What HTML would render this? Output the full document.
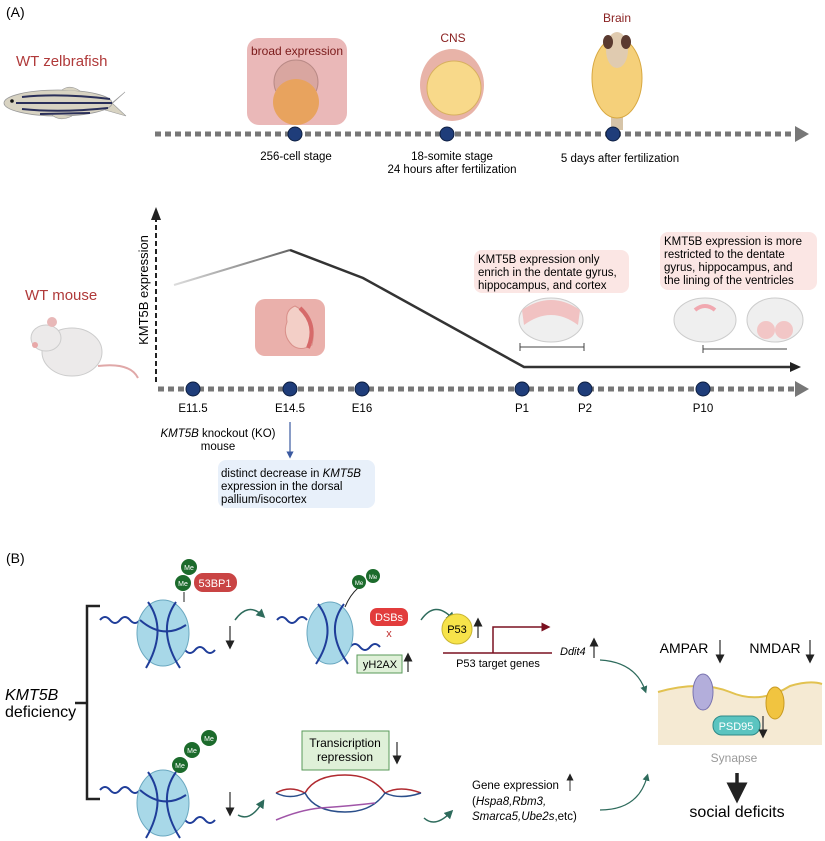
<!DOCTYPE html>
<html><head><meta charset="utf-8"><style>
html,body{margin:0;padding:0;background:#fff;width:825px;height:841px;overflow:hidden}
svg{display:block}
text{font-family:"Liberation Sans",sans-serif}
</style></head><body>
<svg width="825" height="841" viewBox="0 0 825 841" xmlns="http://www.w3.org/2000/svg">
<defs>
<marker id="ab" markerWidth="6" markerHeight="6" refX="3" refY="3" orient="auto"><path d="M0,0 L6,3 L0,6Z" fill="#222"/></marker>
<marker id="at" markerWidth="6" markerHeight="6" refX="3" refY="3" orient="auto"><path d="M0,0 L6,3 L0,6Z" fill="#2e6b5c"/></marker>
<marker id="ar" markerWidth="6" markerHeight="6" refX="3" refY="3" orient="auto"><path d="M0,0 L6,3 L0,6Z" fill="#7a1020"/></marker>
<marker id="abl" markerWidth="6" markerHeight="6" refX="3" refY="3" orient="auto"><path d="M0,0 L6,3 L0,6Z" fill="#3b5aa0"/></marker>
<linearGradient id="cg" x1="0" x2="1"><stop offset="0" stop-color="#ddd"/><stop offset="1" stop-color="#666"/></linearGradient>
</defs>

<text x="6" y="17" font-size="14">(A)</text>
<text x="16" y="66" font-size="15" fill="#b03a3a">WT zelbrafish</text>
<g>
<path d="M125,92 L112,103 L126,116 L105,110 Z" fill="#d8d3c2" stroke="#999" stroke-width="0.6"/>
<ellipse cx="58" cy="103" rx="54" ry="13" fill="#d8d3c2" stroke="#999" stroke-width="0.8"/>
<path d="M62,90 Q70,84 80,91" fill="#d8d3c2" stroke="#999" stroke-width="0.6"/>
<path d="M52,115 Q60,122 72,116" fill="#d8d3c2" stroke="#999" stroke-width="0.6"/>
<path d="M22,97 Q60,93 110,99 M16,103 L112,103 M22,109 Q60,113 108,108 M40,114 L90,113" stroke="#2a2f5a" stroke-width="2" fill="none"/>
<circle cx="12" cy="101" r="1.8" fill="#111"/>
</g>
<line x1="155" y1="134" x2="795" y2="134" stroke="#777" stroke-width="5" stroke-dasharray="6,4"/>
<path d="M795,126 L809,134 L795,142Z" fill="#777"/>
<rect x="247" y="38" width="100" height="87" rx="12" fill="#eab8b8"/>
<text x="297" y="55" font-size="12" fill="#7a1a1a" text-anchor="middle">broad expression</text>
<ellipse cx="296" cy="82" rx="22" ry="22" fill="#d9a6a0" stroke="#b98a86"/>
<circle cx="296" cy="102" r="23" fill="#e8a35e"/>
<text x="453" y="42" font-size="12" fill="#8a2222" text-anchor="middle">CNS</text>
<ellipse cx="452" cy="85" rx="32" ry="36" fill="#e8b3a8"/>
<circle cx="454" cy="88" r="27" fill="#f8d98a" stroke="#d8b060"/>
<text x="617" y="22" font-size="12" fill="#8a2222" text-anchor="middle">Brain</text>
<rect x="611" y="90" width="12" height="40" fill="#d6c4a8"/>
<ellipse cx="617" cy="78" rx="25" ry="40" fill="#f5d07a" stroke="#d8a840"/>
<ellipse cx="617" cy="50" rx="11" ry="18" fill="#e0cbb0"/>
<ellipse cx="608" cy="42" rx="5" ry="7" fill="#5a3a30"/><ellipse cx="626" cy="42" rx="5" ry="7" fill="#5a3a30"/>
<circle cx="295" cy="134" r="7" fill="#1f3d7a" stroke="#0d1e40"/>
<circle cx="447" cy="134" r="7" fill="#1f3d7a" stroke="#0d1e40"/>
<circle cx="613" cy="134" r="7" fill="#1f3d7a" stroke="#0d1e40"/>
<text x="296" y="160" font-size="11.5" text-anchor="middle">256-cell stage</text>
<text x="452" y="160" font-size="11.5" text-anchor="middle">18-somite stage</text>
<text x="452" y="173" font-size="11.5" text-anchor="middle">24 hours after fertilization</text>
<text x="620" y="162" font-size="11.5" text-anchor="middle">5 days after fertilization</text>

<line x1="156" y1="382" x2="156" y2="218" stroke="#222" stroke-width="2" stroke-dasharray="5,3"/>
<path d="M151,220 L156,207 L161,220Z" fill="#222"/>
<text transform="translate(148,290) rotate(-90)" font-size="13" text-anchor="middle">KMT5B expression</text>
<text x="25" y="300" font-size="15" fill="#b03a3a">WT mouse</text>
<g>
<ellipse cx="72" cy="352" rx="30" ry="24" fill="#eceaea" stroke="#ccc"/>
<ellipse cx="46" cy="338" rx="15" ry="13" fill="#eceaea" stroke="#ccc"/>
<circle cx="52" cy="322" r="5" fill="#e8b8b8"/>
<circle cx="35" cy="345" r="3" fill="#e8a8a8"/>
<path d="M98,366 Q130,362 138,378" stroke="#e0a8a8" stroke-width="2" fill="none"/>
</g>
<line x1="158" y1="389" x2="795" y2="389" stroke="#777" stroke-width="5" stroke-dasharray="6,4"/>
<path d="M795,381 L809,389 L795,397Z" fill="#777"/>
<polyline points="174,285 290,250" fill="none" stroke="url(#cg)" stroke-width="2"/>
<polyline points="290,250 363,278 524,367 795,367" fill="none" stroke="#333" stroke-width="2.5"/>
<path d="M790,362 L801,367 L790,372Z" fill="#222"/>
<rect x="255" y="299" width="70" height="57" rx="10" fill="#eab0ab"/>
<path d="M295,306 Q318,318 312,345 Q300,352 292,345 Q282,335 287,322 Q285,310 295,306Z" fill="#f3cfc7" stroke="#d9908a"/>
<path d="M300,308 Q318,325 308,348" stroke="#d66a6a" stroke-width="4" fill="none"/>
<g fill="#1f3d7a" stroke="#0d1e40">
<circle cx="193" cy="389" r="7"/><circle cx="290" cy="389" r="7"/><circle cx="362" cy="389" r="7"/>
<circle cx="522" cy="389" r="7"/><circle cx="585" cy="389" r="7"/><circle cx="703" cy="389" r="7"/>
</g>
<g font-size="11.5" text-anchor="middle">
<text x="193" y="412">E11.5</text><text x="290" y="412">E14.5</text><text x="362" y="412">E16</text>
<text x="522" y="412">P1</text><text x="585" y="412">P2</text><text x="703" y="412">P10</text>
</g>
<text x="218" y="437" font-size="11.5" text-anchor="middle"><tspan font-style="italic">KMT5B</tspan> knockout (KO)</text>
<text x="218" y="450" font-size="11.5" text-anchor="middle">mouse</text>
<line x1="290" y1="422" x2="290" y2="455" stroke="#3b5aa0" stroke-width="1.2" marker-end="url(#abl)"/>
<rect x="218" y="460" width="157" height="48" rx="8" fill="#e8f0fa"/>
<text x="221" y="477" font-size="11.5">distinct decrease in <tspan font-style="italic">KMT5B</tspan></text>
<text x="221" y="490" font-size="11.5">expression in the dorsal</text>
<text x="221" y="503" font-size="11.5">pallium/isocortex</text>
<rect x="474" y="250" width="155" height="43" rx="8" fill="#fbe6e4"/>
<text x="478" y="263" font-size="11.5">KMT5B expression only</text>
<text x="478" y="276" font-size="11.5">enrich in the dentate gyrus,</text>
<text x="478" y="289" font-size="11.5">hippocampus, and cortex</text>
<rect x="660" y="232" width="157" height="58" rx="8" fill="#fbe6e4"/>
<text x="664" y="245" font-size="11.5">KMT5B expression is more</text>
<text x="664" y="258" font-size="11.5">restricted to the dentate</text>
<text x="664" y="271" font-size="11.5">gyrus, hippocampus, and</text>
<text x="664" y="284" font-size="11.5">the lining of the ventricles</text>
<ellipse cx="551" cy="320" rx="32" ry="22" fill="#efefef" stroke="#ccc"/>
<path d="M522,310 Q551,290 580,310 L578,325 Q551,305 524,325Z" fill="#f1c2c2"/>
<path d="M520,347 L584,347 M520,343 V351 M584,343 V351" stroke="#444" stroke-width="1"/>
<ellipse cx="705" cy="320" rx="31" ry="22" fill="#efefef" stroke="#ccc"/>
<path d="M695,310 Q705,302 715,310" stroke="#f1a8b0" stroke-width="4" fill="none"/>
<ellipse cx="775" cy="320" rx="28" ry="22" fill="#efefef" stroke="#ccc"/>
<circle cx="766" cy="330" r="9" fill="#f2c6c6"/><circle cx="784" cy="330" r="9" fill="#f2c6c6"/>
<path d="M703,349 L787,349 M703,345 V353" stroke="#444" stroke-width="1"/>

<text x="6" y="563" font-size="14">(B)</text>
<path d="M100,606 H87 V799 H100 M75,703 H87" stroke="#222" stroke-width="2.5" fill="none"/>
<text x="5" y="700" font-size="16" font-style="italic">KMT5B</text>
<text x="5" y="717" font-size="16">deficiency</text>

<g>
<path d="M100,620 q5,-6 10,0 t10,0 t10,0 t10,0 M175,650 q5,-6 10,0 t10,0 t10,0 t10,0" stroke="#1f3d99" stroke-width="2" fill="none"/>
<ellipse cx="163" cy="633" rx="26" ry="33" fill="#a8d8e8" stroke="#6aa8c0"/>
<path d="M148,602 Q168,630 146,668 M176,602 Q156,630 180,668 M140,620 Q163,640 186,625" stroke="#1f3d99" stroke-width="2" fill="none"/>
<line x1="184" y1="602" x2="184" y2="592" stroke="#222"/>
</g>
<circle cx="189" cy="567" r="8" fill="#1c6b2c"/><text x="189" y="570" font-size="7" fill="#fff" text-anchor="middle">Me</text>
<circle cx="183" cy="583" r="8" fill="#1c6b2c"/><text x="183" y="586" font-size="7" fill="#fff" text-anchor="middle">Me</text>
<rect x="194" y="573" width="43" height="19" rx="9" fill="#c94444"/><text x="215" y="587" font-size="11" fill="#fff" text-anchor="middle">53BP1</text>
<path d="M235,620 Q248,602 262,615" stroke="#2e6b5c" stroke-width="1.5" fill="none" marker-end="url(#at)"/>
<line x1="230" y1="626" x2="230" y2="645" stroke="#555" stroke-width="1.5" marker-end="url(#ab)"/>

<g>
<path d="M277,620 q5,-6 10,0 t10,0 t10,0 M350,647 q5,-6 10,0 t10,0 t10,0" stroke="#1f3d99" stroke-width="2" fill="none"/>
<ellipse cx="330" cy="633" rx="23" ry="31" fill="#a8d8e8" stroke="#6aa8c0"/>
<path d="M318,604 Q338,630 316,664 M344,604 Q324,630 348,664" stroke="#1f3d99" stroke-width="2" fill="none"/>
<path d="M345,607 Q350,595 358,588" stroke="#222" fill="none"/>
</g>
<circle cx="359" cy="582" r="7" fill="#1c6b2c"/><text x="359" y="585" font-size="6" fill="#fff" text-anchor="middle">Me</text>
<circle cx="373" cy="576" r="7" fill="#1c6b2c"/><text x="373" y="579" font-size="6" fill="#fff" text-anchor="middle">Me</text>
<rect x="370" y="608" width="38" height="18" rx="7" fill="#e23c3c"/><text x="389" y="621" font-size="11" fill="#fff" text-anchor="middle">DSBs</text>
<text x="389" y="637" font-size="11" fill="#c03030" text-anchor="middle">x</text>
<rect x="357" y="655" width="45" height="18" fill="#dff0d8" stroke="#5a9a5a"/><text x="380" y="668" font-size="11" text-anchor="middle">yH2AX</text>
<line x1="408" y1="672" x2="408" y2="657" stroke="#555" stroke-width="1.5" marker-end="url(#ab)"/>
<path d="M421,620 Q435,600 452,618" stroke="#2e6b5c" stroke-width="1.5" fill="none" marker-end="url(#at)"/>
<circle cx="457" cy="629" r="15" fill="#f7e34a" stroke="#c9b530"/><text x="457" y="633" font-size="11" text-anchor="middle">P53</text>
<line x1="478" y1="638" x2="478" y2="622" stroke="#555" stroke-width="1.5" marker-end="url(#ab)"/>
<path d="M443,653 H552 M493,653 V627 H546" stroke="#7a1020" stroke-width="1.5" fill="none" marker-end="url(#ar)"/>
<text x="498" y="667" font-size="11" text-anchor="middle">P53 target genes</text>
<text x="560" y="655" font-size="11" font-style="italic">Ddit4</text>
<line x1="594" y1="658" x2="594" y2="642" stroke="#555" stroke-width="1.5" marker-end="url(#ab)"/>
<path d="M600,660 Q635,662 645,690" stroke="#2e6b5c" stroke-width="1.2" fill="none" marker-end="url(#at)"/>

<text x="684" y="653" font-size="14" text-anchor="middle">AMPAR</text>
<line x1="720" y1="640" x2="720" y2="659" stroke="#555" stroke-width="1.5" marker-end="url(#ab)"/>
<text x="775" y="653" font-size="14" text-anchor="middle">NMDAR</text>
<line x1="810" y1="640" x2="810" y2="659" stroke="#555" stroke-width="1.5" marker-end="url(#ab)"/>
<path d="M658,692 Q700,680 730,692 Q760,705 790,686 Q810,680 822,684 V745 H658Z" fill="#f5ead3"/>
<path d="M658,692 Q700,680 730,692 Q760,705 790,686 Q810,680 822,684" stroke="#e2c250" stroke-width="2" fill="none"/>
<ellipse cx="703" cy="692" rx="10" ry="18" fill="#b3aedb" stroke="#7a74b0"/>
<ellipse cx="775" cy="703" rx="9" ry="16" fill="#f1c440" stroke="#c89a20"/>
<rect x="713" y="716" width="47" height="19" rx="9" fill="#5bc4c0" stroke="#2e8a88"/><text x="736" y="730" font-size="11" fill="#fff" text-anchor="middle">PSD95</text>
<line x1="763" y1="716" x2="763" y2="734" stroke="#555" stroke-width="1.5" marker-end="url(#ab)"/>
<text x="734" y="762" font-size="12" fill="#999" text-anchor="middle">Synapse</text>
<line x1="737" y1="773" x2="737" y2="793" stroke="#222" stroke-width="3.5" marker-end="url(#ab)"/>
<text x="737" y="817" font-size="16" text-anchor="middle">social deficits</text>

<g>
<path d="M100,790 q5,-6 10,0 t10,0 t10,0 t10,0 M175,820 q5,-6 10,0 t10,0 t10,0 t10,0" stroke="#1f3d99" stroke-width="2" fill="none"/>
<ellipse cx="163" cy="803" rx="26" ry="33" fill="#a8d8e8" stroke="#6aa8c0"/>
<path d="M148,772 Q168,800 146,838 M176,772 Q156,800 180,838 M140,790 Q163,810 186,795" stroke="#1f3d99" stroke-width="2" fill="none"/>
</g>
<circle cx="209" cy="738" r="8" fill="#1c6b2c"/><text x="209" y="741" font-size="7" fill="#fff" text-anchor="middle">Me</text>
<circle cx="192" cy="750" r="8" fill="#1c6b2c"/><text x="192" y="753" font-size="7" fill="#fff" text-anchor="middle">Me</text>
<circle cx="180" cy="765" r="8" fill="#1c6b2c"/><text x="180" y="768" font-size="7" fill="#fff" text-anchor="middle">Me</text>
<line x1="230" y1="792" x2="230" y2="812" stroke="#555" stroke-width="1.5" marker-end="url(#ab)"/>
<path d="M238,815 Q250,822 262,803" stroke="#2e6b5c" stroke-width="1.5" fill="none" marker-end="url(#at)"/>
<rect x="302" y="731" width="87" height="39" fill="#dff0d8" stroke="#5a9a5a"/>
<text x="345" y="747" font-size="12" text-anchor="middle">Transicription</text>
<text x="345" y="761" font-size="12" text-anchor="middle">repression</text>
<line x1="397" y1="742" x2="397" y2="760" stroke="#555" stroke-width="1.5" marker-end="url(#ab)"/>
<path d="M276,793 Q290,785 305,793 Q315,775 345,775 Q372,775 385,793 Q400,785 421,793" stroke="#b02a30" stroke-width="1.5" fill="none"/>
<path d="M276,793 Q290,800 305,793 Q315,812 345,812 Q372,812 385,793 Q400,800 421,793" stroke="#2a4e8a" stroke-width="1.5" fill="none"/>
<path d="M276,820 Q300,810 320,808 Q350,806 375,803" stroke="#a055a8" stroke-width="1.5" fill="none"/>
<path d="M424,818 Q435,828 450,813" stroke="#2e6b5c" stroke-width="1.5" fill="none" marker-end="url(#at)"/>
<text x="472" y="789" font-size="11.5">Gene expression</text>
<line x1="570" y1="791" x2="570" y2="777" stroke="#555" stroke-width="1.2" marker-end="url(#ab)"/>
<text x="472" y="805" font-size="11.5">(<tspan font-style="italic">Hspa8,Rbm3,</tspan></text>
<text x="472" y="820" font-size="11.5"><tspan font-style="italic">Smarca5,Ube2s</tspan>,etc)</text>
<path d="M600,810 Q638,810 647,777" stroke="#2e6b5c" stroke-width="1.2" fill="none" marker-end="url(#at)"/>
</svg>
</body></html>
